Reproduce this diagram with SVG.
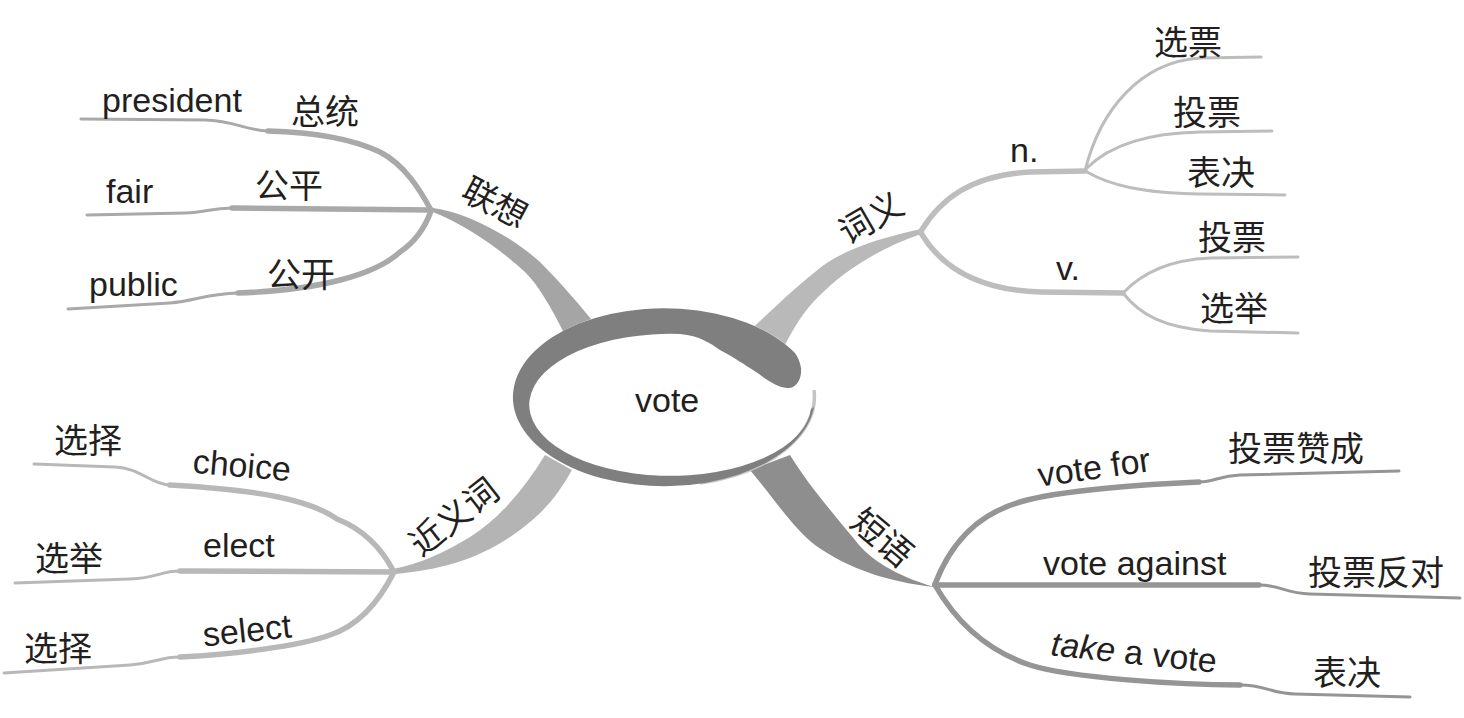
<svg xmlns="http://www.w3.org/2000/svg" width="1464" height="718" viewBox="0 0 1464 718">
<style>
.en{font-family:"Liberation Sans",Arial,sans-serif;font-size:34px;fill:#231f20}
.cn{font-family:"Noto Sans CJK SC",sans-serif;font-size:34px;fill:#231f20}
.ln{fill:none;stroke-linecap:round;stroke-linejoin:round}
.thick{stroke-width:5.5}
.thin{stroke-width:3}
.tl{stroke:#a9a9a9}
.tr{stroke:#bdbdbd}
.bl{stroke:#b8b8b8}
.br{stroke:#959595}
</style>
<rect width="1464" height="718" fill="#ffffff"/>
<g id="connectors">
  <!-- trunks -->
  <path id="trunk-tl" d="M433,208 C465,212 510,235 540,262 C560,282 580,305 600,330 L565,335 C550,305 538,285 525,272 C495,245 465,225 433,212 Z" fill="#a5a5a5"/>
  <path id="trunk-tr" d="M921,229 C880,238 840,250 815,272 C790,292 770,312 745,335 L785,345 C795,325 805,310 818,297 C845,270 880,248 921,234 Z" fill="#b9b9b9"/>
  <path id="trunk-bl" d="M393,569 C420,564 445,552 470,537 C500,518 525,488 545,455 L572,470 C555,500 540,515 520,530 C480,560 440,570 395,574 Z" fill="#b4b4b4"/>
  <path id="trunk-br" d="M750,470 C775,500 795,530 815,545 C850,570 890,582 934,587 C895,575 870,560 855,540 C830,510 805,480 790,455 Z" fill="#8e8e8e"/>
  <!-- top-left -->
  <path class="ln tl thick" d="M431,210 C420,190 405,165 380,152 C350,138 310,132 268,131"/>
  <path class="ln tl thin" d="M268,131 C245,130 235,121 205,120 L81,119"/>
  <path class="ln tl thick" d="M431,210 L232,208"/>
  <path class="ln tl thin" d="M232,208 C210,208 205,213 185,213 L87,215"/>
  <path class="ln tl thick" d="M431,211 C427,222 418,240 400,252 C375,275 320,290 238,293"/>
  <path class="ln tl thin" d="M238,293 C205,294 195,301 170,303 L68,309"/>
  <!-- top-right -->
  <path class="ln tr thick" d="M921,231 C940,200 970,175 1030,172 L1085,171"/>
  <path class="ln tr thin" d="M1085,171 C1100,110 1140,62 1200,58 L1261,57"/>
  <path class="ln tr thin" d="M1087,168 C1110,145 1150,133 1200,132 L1272,131"/>
  <path class="ln tr thin" d="M1087,172 C1110,185 1140,193 1200,194 L1285,195"/>
  <path class="ln tr thick" d="M921,233 C940,265 975,290 1040,292 L1123,293"/>
  <path class="ln tr thin" d="M1123,293 C1140,275 1165,260 1210,258 L1298,257"/>
  <path class="ln tr thin" d="M1123,293 C1140,315 1165,328 1210,331 L1298,333"/>
  <!-- bottom-left -->
  <path class="ln bl thick" d="M394,572 C380,545 360,528 337,519 C310,500 260,490 170,485"/>
  <path class="ln bl thin" d="M170,485 C150,484 140,468 115,467 L34,464"/>
  <path class="ln bl thick" d="M394,572 L180,571"/>
  <path class="ln bl thin" d="M180,571 C160,571 158,578 130,579 L15,583"/>
  <path class="ln bl thick" d="M394,572 C380,600 360,625 330,635 C300,646 230,655 180,657"/>
  <path class="ln bl thin" d="M180,657 C160,657 155,663 130,665 L4,673"/>
  <!-- bottom-right -->
  <path class="ln br thick" d="M935,584 C950,545 975,515 1020,502 C1060,490 1150,484 1199,482"/>
  <path class="ln br thin" d="M1199,482 C1215,482 1218,476 1240,475 L1399,471"/>
  <path class="ln br thick" d="M935,585 L1259,585"/>
  <path class="ln br thin" d="M1259,585 C1280,585 1285,593 1310,594 L1460,598"/>
  <path class="ln br thick" d="M935,585 C955,620 985,650 1030,665 C1070,678 1180,685 1240,685"/>
  <path class="ln br thin" d="M1240,685 C1265,685 1270,693 1295,694 L1410,697"/>
</g>
<g id="center">
  <ellipse cx="664" cy="397" rx="151" ry="89" fill="#ffffff"/>
  <path d="M814,390 A151 89 0 0 1 700,483" fill="none" stroke="#c4c4c4" stroke-width="3.5"/>
  <path d="M795,353 A151 89 0 1 0 814,407 L811,409 A141 71 0 1 1 680,334 C700,336 710,343 720,350 C735,358 745,365 753,370 C765,378 775,387 787,388 C797,389 802,378 801,368 C800,362 798,357 795,353 Z" fill="#7f7f7f"/>
  <text class="en" x="635" y="412" font-size="33">vote</text>
</g>
<g id="branch-labels">
  <text class="cn" transform="translate(495,203) rotate(28)" text-anchor="middle" y="12">联想</text>
  <text class="cn" transform="translate(871,218) rotate(-30)" text-anchor="middle" y="12">词义</text>
  <text class="cn" transform="translate(454,517) rotate(-38)" text-anchor="middle" y="12">近义词</text>
  <text class="cn" transform="translate(882,538) rotate(40)" text-anchor="middle" y="12">短语</text>
</g>
<g id="node-tl">
  <text class="en" x="102" y="112">president</text>
  <text class="cn" x="291" y="124">总统</text>
  <text class="en" x="106" y="203">fair</text>
  <text class="cn" x="255" y="198">公平</text>
  <text class="en" x="89" y="296">public</text>
  <text class="cn" x="267" y="287">公开</text>
</g>
<g id="node-tr">
  <text class="en" x="1010" y="162">n.</text>
  <text class="cn" x="1154" y="55">选票</text>
  <text class="cn" x="1173" y="125">投票</text>
  <text class="cn" x="1187" y="185">表决</text>
  <text class="en" x="1056" y="280">v.</text>
  <text class="cn" x="1198" y="250">投票</text>
  <text class="cn" x="1200" y="321">选举</text>
</g>
<g id="node-bl">
  <text class="cn" x="54" y="453">选择</text>
  <text class="en" transform="translate(242,465) rotate(5)" text-anchor="middle" y="12">choice</text>
  <text class="cn" x="35" y="571">选举</text>
  <text class="en" x="203" y="557">elect</text>
  <text class="cn" x="24" y="661">选择</text>
  <text class="en" transform="translate(247,630) rotate(-6)" text-anchor="middle" y="12">select</text>
</g>
<g id="node-br">
  <text class="en" transform="translate(1094,467) rotate(-8)" text-anchor="middle" y="12">vote for</text>
  <text class="cn" x="1228" y="461">投票赞成</text>
  <text class="en" x="1043" y="575">vote against</text>
  <text class="cn" x="1308" y="585">投票反对</text>
  <text class="en" transform="translate(1134,652) rotate(6)" text-anchor="middle" y="12"><tspan font-style="italic">take</tspan> a vote</text>
  <text class="cn" x="1313" y="685">表决</text>
</g>
</svg>
